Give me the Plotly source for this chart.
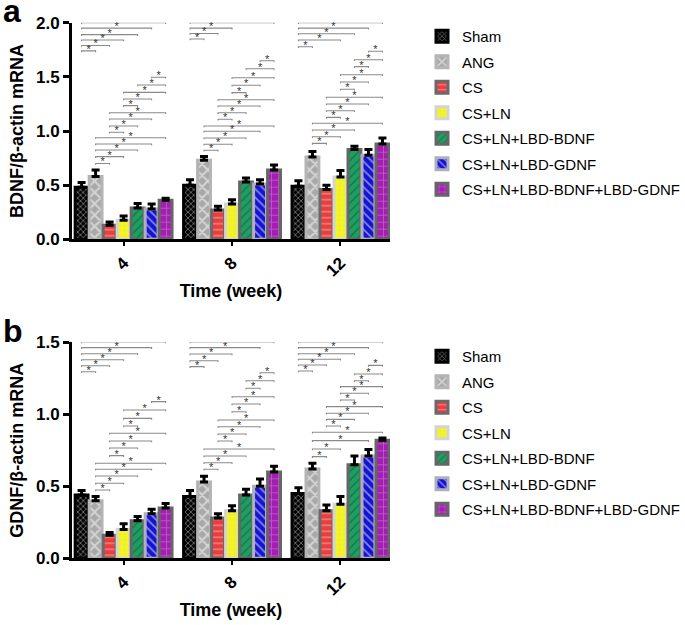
import plotly.graph_objects as go

WEEKS = ["4", "8", "12"]
TREATMENTS = ["Sham", "ANG", "CS", "CS+LN", "CS+LN+LBD-BDNF",
              "CS+LN+LBD-GDNF", "CS+LN+LBD-BDNF+LBD-GDNF"]

# ---- BDNF/beta-actin mRNA (panel a): mean and upper error per week ----
BDNF_SHAM = [0.48, 0.50, 0.49]
BDNF_ANG = [0.58, 0.73, 0.76]
BDNF_CS = [0.13, 0.27, 0.46]
BDNF_CSLN = [0.175, 0.325, 0.575]
BDNF_LBDB = [0.29, 0.53, 0.83]
BDNF_LBDG = [0.28, 0.51, 0.775]
BDNF_BOTH = [0.36, 0.64, 0.88]
BDNF_SHAM_ERR = [0.045, 0.05, 0.05]
BDNF_ANG_ERR = [0.06, 0.035, 0.05]
BDNF_CS_ERR = [0.03, 0.035, 0.04]
BDNF_CSLN_ERR = [0.04, 0.04, 0.06]
BDNF_LBDB_ERR = [0.04, 0.035, 0.03]
BDNF_LBDG_ERR = [0.045, 0.04, 0.055]
BDNF_BOTH_ERR = [0.02, 0.045, 0.055]

# ---- GDNF/beta-actin mRNA (panel b) ----
GDNF_SHAM = [0.44, 0.43, 0.45]
GDNF_ANG = [0.40, 0.53, 0.62]
GDNF_CS = [0.16, 0.28, 0.33]
GDNF_CSLN = [0.20, 0.33, 0.375]
GDNF_LBDB = [0.26, 0.44, 0.65]
GDNF_LBDG = [0.31, 0.50, 0.71]
GDNF_BOTH = [0.35, 0.60, 0.82]
GDNF_SHAM_ERR = [0.03, 0.04, 0.04]
GDNF_ANG_ERR = [0.03, 0.04, 0.04]
GDNF_CS_ERR = [0.02, 0.03, 0.04]
GDNF_CSLN_ERR = [0.04, 0.035, 0.055]
GDNF_LBDB_ERR = [0.03, 0.04, 0.06]
GDNF_LBDG_ERR = [0.03, 0.05, 0.045]
GDNF_BOTH_ERR = [0.03, 0.04, 0.015]

# ---- significance brackets: (from treatment idx, to treatment idx, height) ----
BDNF_SIG_4 = [(0, 1, 1.74), (0, 2, 1.79), (0, 3, 1.84), (0, 4, 1.89), (0, 5, 1.95), (0, 6, 2.00),
              (1, 2, 0.70), (1, 3, 0.763), (1, 4, 0.825), (1, 5, 0.88), (1, 6, 0.938),
              (2, 3, 0.988), (2, 4, 1.046), (2, 5, 1.111), (2, 6, 1.169),
              (3, 4, 1.234), (3, 5, 1.295), (3, 6, 1.357), (4, 6, 1.425), (5, 6, 1.496)]
BDNF_SIG_8 = [(0, 1, 1.85), (0, 2, 1.90), (0, 3, 1.95), (0, 6, 2.00),
              (1, 2, 0.822), (1, 3, 0.877), (1, 4, 0.935), (1, 5, 0.997), (1, 6, 1.046),
              (2, 3, 1.108), (2, 4, 1.169), (2, 5, 1.231), (2, 6, 1.289),
              (3, 4, 1.354), (3, 5, 1.422), (3, 6, 1.492), (4, 6, 1.575), (5, 6, 1.649)]
BDNF_SIG_12 = [(0, 1, 1.778), (0, 3, 1.84), (0, 4, 1.898), (0, 5, 1.95), (0, 6, 2.00),
               (1, 2, 0.886), (1, 3, 0.947), (1, 4, 1.009), (1, 6, 1.071),
               (2, 3, 1.126), (2, 4, 1.187), (2, 5, 1.249), (2, 6, 1.311),
               (3, 4, 1.385), (3, 5, 1.452), (3, 6, 1.52),
               (4, 5, 1.594), (4, 6, 1.658), (5, 6, 1.736)]
GDNF_SIG_4 = [(0, 1, 1.296), (0, 2, 1.337), (0, 3, 1.379), (0, 4, 1.421), (0, 5, 1.463), (0, 6, 1.502),
              (1, 2, 0.474), (1, 3, 0.521), (1, 4, 0.572), (1, 5, 0.618), (1, 6, 0.66),
              (2, 3, 0.713), (2, 4, 0.766), (2, 5, 0.815), (2, 6, 0.868),
              (3, 4, 0.919), (3, 5, 0.972), (3, 6, 1.03), (5, 6, 1.088)]
GDNF_SIG_8 = [(0, 1, 1.331), (0, 2, 1.372), (0, 3, 1.419), (0, 5, 1.463), (0, 6, 1.502),
              (1, 2, 0.618), (1, 3, 0.664), (1, 4, 0.71), (1, 6, 0.759),
              (2, 3, 0.815), (2, 4, 0.863), (2, 5, 0.914), (2, 6, 0.96),
              (3, 4, 1.018), (3, 5, 1.072), (3, 6, 1.122),
              (4, 5, 1.181), (4, 6, 1.233), (5, 6, 1.289)]
GDNF_SIG_12 = [(0, 1, 1.301), (0, 2, 1.342), (0, 3, 1.382), (0, 4, 1.421), (0, 5, 1.463), (0, 6, 1.502),
               (1, 2, 0.706), (1, 3, 0.759), (1, 5, 0.817), (1, 6, 0.875),
               (2, 3, 0.919), (2, 4, 0.965), (2, 5, 1.007), (2, 6, 1.053),
               (3, 4, 1.099), (3, 5, 1.146), (3, 6, 1.192),
               (4, 5, 1.233), (4, 6, 1.28), (5, 6, 1.34)]

BDNF_VALUES = [BDNF_SHAM, BDNF_ANG, BDNF_CS, BDNF_CSLN, BDNF_LBDB, BDNF_LBDG, BDNF_BOTH]
BDNF_ERRORS = [BDNF_SHAM_ERR, BDNF_ANG_ERR, BDNF_CS_ERR, BDNF_CSLN_ERR, BDNF_LBDB_ERR, BDNF_LBDG_ERR, BDNF_BOTH_ERR]
GDNF_VALUES = [GDNF_SHAM, GDNF_ANG, GDNF_CS, GDNF_CSLN, GDNF_LBDB, GDNF_LBDG, GDNF_BOTH]
GDNF_ERRORS = [GDNF_SHAM_ERR, GDNF_ANG_ERR, GDNF_CS_ERR, GDNF_CSLN_ERR, GDNF_LBDB_ERR, GDNF_LBDG_ERR, GDNF_BOTH_ERR]

# ---- styles ----
STYLES = [
    dict(bg="#000000", fg="#ffffff", shape="x", size=4, sol=0.35, line="#000000"),
    dict(bg="#a8a8a8", fg="#ffffff", shape="x", size=8, sol=0.45, line="#b4b4b4"),
    dict(bg="#ee3b3b", fg="#d8d8d8", shape="-", size=6, sol=0.25, line="#6a6a6a"),
    dict(bg="#f4f41e", fg="#d9d98a", shape=".", size=5, sol=0.2, line="#d4d4d4"),
    dict(bg="#1f9e62", fg="#0d4a2c", shape="/", size=6, sol=0.22, line="#666666"),
    dict(bg="#1414d2", fg="#ffffff", shape="\\", size=6, sol=0.28, line="#b0b0bc"),
    dict(bg="#a21fb0", fg="#dd9ae6", shape="+", size=7, sol=0.22, line="#666666"),
]

BAR_GAP = 0.096
BAR_GROUP_GAP = 0.08
N = len(TREATMENTS)
SLOT = (1 - BAR_GAP) / N
XPOS = list(range(len(WEEKS)))


def bar_center(week_idx, treat_idx):
    return week_idx + (treat_idx - (N - 1) / 2) * SLOT


fig = go.Figure()
FONT = "Arial, Liberation Sans, sans-serif"


def add_panel(values, errors, sig_sets, xa, ya, legend, tick_h):
    for i, name in enumerate(TREATMENTS):
        s = STYLES[i]
        fig.add_trace(go.Bar(
            x=XPOS, y=values[i], name=name, xaxis=xa, yaxis=ya, legend=legend,
            legendgroup=legend + name,
            marker=dict(color=s["bg"], line=dict(color=s["line"], width=3),
                        pattern=dict(shape=s["shape"], bgcolor=s["bg"], fgcolor=s["fg"],
                                     size=s["size"], solidity=s["sol"])),
            error_y=dict(type="data", array=errors[i], arrayminus=[0] * len(WEEKS),
                         symmetric=False, color="#000000", thickness=3, width=4),
        ))
    lx, ly, sx, sy = [], [], [], []
    for w, sigs in enumerate(sig_sets):
        for a, b, h in sigs:
            x0, x1 = bar_center(w, a), bar_center(w, b)
            lx += [x0, x0, x1, x1, None]
            ly += [h - tick_h, h, h, h - tick_h, None]
            sx.append((x0 + x1) / 2)
            sy.append(h + tick_h * 0.6)
    fig.add_trace(go.Scatter(x=lx, y=ly, mode="lines", xaxis=xa, yaxis=ya,
                             line=dict(color="#8a8a8a", width=1.1), showlegend=False,
                             hoverinfo="skip", cliponaxis=False))
    fig.add_trace(go.Scatter(x=sx, y=sy, mode="text", text=["*"] * len(sx), xaxis=xa, yaxis=ya,
                             textposition="middle center",
                             textfont=dict(family=FONT, size=11, color="#333333"),
                             showlegend=False, hoverinfo="skip", cliponaxis=False))


add_panel(BDNF_VALUES, BDNF_ERRORS, [BDNF_SIG_4, BDNF_SIG_8, BDNF_SIG_12], "x", "y", "legend", 0.012)
add_panel(GDNF_VALUES, GDNF_ERRORS, [GDNF_SIG_4, GDNF_SIG_8, GDNF_SIG_12], "x2", "y2", "legend2", 0.009)

W, H = 685, 625


def px(x):
    return x / W


def py(y):
    return 1 - y / H


XDOM = [px(72), px(390)]
XRANGE = [-0.476, 2.457]

xcommon = dict(domain=XDOM, range=XRANGE, tickvals=XPOS, ticktext=WEEKS, tickangle=-45,
               automargin=False,
               showline=True, linewidth=3, linecolor="#000000", ticks="outside",
               ticklen=4, tickwidth=2, tickcolor="#000000", showgrid=False, zeroline=False,
               tickfont=dict(family=FONT, size=17, color="#000000", weight="bold"),
               title=dict(text="Time (week)", standoff=5,
                          font=dict(family=FONT, size=18, color="#000000", weight="bold")))
ycommon = dict(showline=True, linewidth=3, linecolor="#000000", ticks="outside",
               automargin=False,
               ticklen=6, tickwidth=2.5, tickcolor="#000000", showgrid=False, zeroline=False,
               dtick=0.5, tickformat=".1f",
               tickfont=dict(family=FONT, size=17, color="#000000", weight="bold"))

legend_common = dict(xanchor="left", yanchor="top", bgcolor="rgba(0,0,0,0)",
                     font=dict(family=FONT, size=15, color="#000000"),
                     traceorder="grouped", tracegroupgap=3, itemwidth=30)

fig.update_layout(
    width=W, height=H, margin=dict(l=0, r=0, t=0, b=0, autoexpand=False),
    paper_bgcolor="#ffffff", plot_bgcolor="#ffffff",
    barmode="group", bargap=BAR_GAP, bargroupgap=BAR_GROUP_GAP,
    xaxis=dict(xcommon, anchor="y"),
    yaxis=dict(ycommon, domain=[py(239.3), py(22.7)], range=[0, 2.0], anchor="x",
               title=dict(text="BDNF/β-actin mRNA", standoff=8,
                          font=dict(family=FONT, size=18, color="#000000", weight="bold"))),
    xaxis2=dict(xcommon, anchor="y2"),
    yaxis2=dict(ycommon, domain=[py(558.3), py(342.3)], range=[0, 1.5], anchor="x2",
                title=dict(text="GDNF/β-actin mRNA", standoff=8,
                           font=dict(family=FONT, size=18, color="#000000", weight="bold"))),
    legend=dict(legend_common, x=px(422), y=py(20)),
    legend2=dict(legend_common, x=px(422), y=py(340)),
    annotations=[
        dict(text="a", x=px(1), y=py(-9), xref="paper", yref="paper", xanchor="left",
             yanchor="top", showarrow=False,
             font=dict(family=FONT, size=32, color="#000000", weight="bold")),
        dict(text="b", x=px(1), y=py(311), xref="paper", yref="paper", xanchor="left",
             yanchor="top", showarrow=False,
             font=dict(family=FONT, size=32, color="#000000", weight="bold")),
    ],
    showlegend=True,
)

# the page's default 8 px body margin would push the figure off the window edge
fig.write_html("out.html", config={"displayModeBar": False},
               post_script="document.body.style.margin='0px';")
